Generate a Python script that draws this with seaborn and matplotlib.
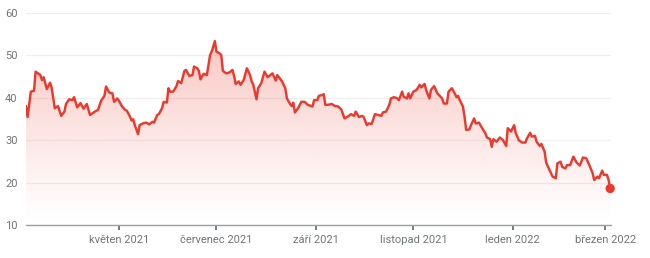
import numpy as np
import pandas as pd
import matplotlib
matplotlib.use("Agg")
import matplotlib.pyplot as plt
import matplotlib.dates as mdates
from matplotlib.patches import Polygon
import seaborn as sns

# ---------------- data ----------------
start_date = "2021-03-04"
day_offsets = [0, 1, 3, 5, 6, 9, 10, 11, 13, 15, 16, 18, 20, 22, 24, 25, 27, 29, 30, 32,
               34, 36, 38, 40, 43, 45, 47, 49, 50, 52, 54, 55, 57, 58, 60, 62, 63, 65, 66, 67,
               68, 70, 71, 73, 75, 77, 79, 80, 82, 83, 85, 86, 88, 89, 90, 92, 94, 95, 97, 99,
               100, 102, 104, 105, 107, 108, 109, 111, 113, 115, 116, 118, 119, 121, 122, 123, 125, 127, 129, 130,
               131, 133, 134, 136, 138, 140, 141, 142, 144, 145, 147, 149, 151, 152, 154, 156, 157, 159, 160, 162,
               163, 165, 166, 167, 168, 170, 172, 174, 176, 179, 180, 182, 183, 185, 186, 187, 189, 191, 193, 195,
               197, 199, 201, 203, 205, 206, 208, 210, 211, 213, 214, 216, 218, 220, 222, 223, 225, 227, 228, 230,
               232, 233, 235, 236, 238, 239, 240, 242, 244, 246, 247, 249, 250, 252, 253, 255, 257, 258, 260, 261,
               263, 264, 266, 267, 269, 270, 271, 273, 274, 275, 277, 278, 280, 281, 283, 285, 287, 288, 290, 291,
               292, 294, 296, 298, 300, 301, 303, 305, 306, 308, 310, 312, 313, 315, 316, 318, 319, 321, 322, 324,
               325, 327, 329, 331, 332, 334, 335, 337, 338, 340, 342, 344, 346, 348, 350, 352, 354, 355, 357, 358,
               360, 361, 363, 364, 365]
prices = [38.0, 35.4, 41.4, 41.6, 46.1, 45.3, 44.1, 44.8, 42.0, 43.5, 42.4, 37.5, 38.0, 35.7, 36.7, 38.5, 39.6, 39.4, 40.1, 37.7,
          38.7, 37.4, 38.5, 35.9, 36.7, 37.1, 39.3, 40.4, 42.6, 41.2, 41.0, 39.0, 39.8, 39.3, 37.9, 37.1, 36.9, 35.5, 34.6, 34.9,
          33.5, 31.4, 33.5, 33.9, 34.1, 33.7, 34.3, 34.1, 35.9, 36.1, 37.5, 39.0, 38.8, 42.2, 41.4, 41.4, 42.7, 43.9, 43.4, 46.3,
          46.5, 45.1, 45.3, 47.3, 46.9, 46.3, 44.3, 45.6, 45.3, 50.0, 50.8, 53.3, 50.8, 50.4, 50.0, 46.3, 45.7, 45.9, 46.5, 45.1,
          43.2, 43.8, 43.0, 44.1, 46.9, 45.3, 43.8, 43.0, 39.6, 42.2, 43.4, 46.1, 44.8, 45.1, 45.7, 44.0, 45.3, 44.3, 43.8, 42.2,
          39.8, 38.5, 38.0, 38.8, 36.5, 37.5, 39.0, 39.0, 38.3, 37.9, 39.4, 39.4, 40.4, 40.6, 40.8, 38.3, 38.3, 38.5, 38.0, 37.9,
          37.2, 35.1, 35.5, 36.1, 35.7, 36.7, 35.4, 35.7, 35.4, 33.5, 33.9, 33.8, 36.1, 35.9, 35.7, 36.5, 36.7, 38.3, 39.8, 40.1,
          39.8, 39.4, 41.4, 40.2, 39.8, 41.0, 39.8, 41.4, 41.8, 43.0, 42.4, 43.2, 41.8, 39.8, 41.8, 42.7, 41.0, 40.6, 39.8, 38.6,
          38.6, 41.4, 42.2, 41.6, 40.1, 40.4, 39.4, 37.9, 35.5, 32.4, 32.5, 33.5, 35.1, 33.9, 34.1, 32.8, 31.6, 30.6, 30.2, 28.4,
          30.2, 29.6, 30.6, 30.0, 28.6, 32.8, 32.0, 33.5, 31.6, 29.9, 29.4, 29.4, 30.4, 31.7, 30.8, 31.0, 29.6, 28.6, 29.1, 27.3,
          24.7, 23.0, 21.4, 21.0, 24.5, 24.9, 23.7, 23.3, 24.1, 24.1, 26.1, 24.7, 24.0, 25.9, 25.7, 24.1, 22.2, 20.6, 21.4, 21.0,
          22.8, 21.8, 21.8, 20.6, 18.6]
tick_dates = ["2021-05-01", "2021-07-01", "2021-09-01", "2021-11-01", "2022-01-02", "2022-03-01"]
tick_labels = ["květen 2021", "červenec 2021", "září 2021", "listopad 2021", "leden 2022", "březen 2022"]
y_ticks = [10, 20, 30, 40, 50, 60]

# ---------------- style ----------------
sns.set_theme(style="white")
plt.rcParams["font.family"] = ["Roboto", "DejaVu Sans"]
LINE = "#ea3a2e"
TXT = "#70757a"

dates = pd.Timestamp(start_date) + pd.to_timedelta(day_offsets, unit="D")
df = pd.DataFrame({"date": dates, "price": prices})

fig = plt.figure(figsize=(6.5, 2.58), dpi=100)
ax = fig.add_axes([0.04, 0.128, 0.9, 0.823])

# gradient fill under the line
xnum = mdates.date2num(df["date"])
ymin_ax = y_ticks[0]
ytop = max(prices)
n = 256
img = np.zeros((n, 1, 4))
img[:, 0, 0] = 234 / 255
img[:, 0, 1] = 67 / 255
img[:, 0, 2] = 53 / 255
img[:, 0, 3] = np.linspace(0.0, 0.35, n) ** 1.15
im = ax.imshow(img, extent=[xnum[0], xnum[-1], ymin_ax, ytop], origin="lower",
               aspect="auto", zorder=1)
verts = np.column_stack([np.r_[xnum, xnum[-1], xnum[0]],
                         np.r_[prices, ymin_ax, ymin_ax]])
poly = Polygon(verts, closed=True, facecolor="none", edgecolor="none")
ax.add_patch(poly)
im.set_clip_path(poly)

sns.lineplot(data=df, x="date", y="price", color=LINE, linewidth=1.75, ax=ax, zorder=3)
ax.scatter([df["date"].iloc[-1]], [df["price"].iloc[-1]], s=45, color=LINE,
           zorder=4, clip_on=False, edgecolors="none")

ax.set_xlim(df["date"].iloc[0], df["date"].iloc[-1] + pd.Timedelta(hours=12))
ax.set_ylim(y_ticks[0], y_ticks[-1])
ax.set_yticks(y_ticks)
ax.set_yticklabels([str(v) for v in y_ticks])
ax.set_xticks(pd.to_datetime(tick_dates))
ax.set_xticklabels(tick_labels)
ax.set_xlabel("")
ax.set_ylabel("")

ax.grid(axis="y", color="#efefef", linewidth=0.9, zorder=0)
ax.grid(axis="x", visible=False)
for s in ["top", "right", "left"]:
    ax.spines[s].set_visible(False)
ax.spines["bottom"].set_color("#9aa0a6")
ax.spines["bottom"].set_linewidth(1.0)
ax.spines["bottom"].set_zorder(5)

ax.tick_params(axis="x", length=3.5, width=1.2, color="#5f6368", labelsize=8,
               labelcolor=TXT, pad=4, bottom=True)
ax.tick_params(axis="y", length=0, labelsize=8, labelcolor=TXT, pad=6)

fig.savefig("out.png", dpi=100, facecolor="white")
